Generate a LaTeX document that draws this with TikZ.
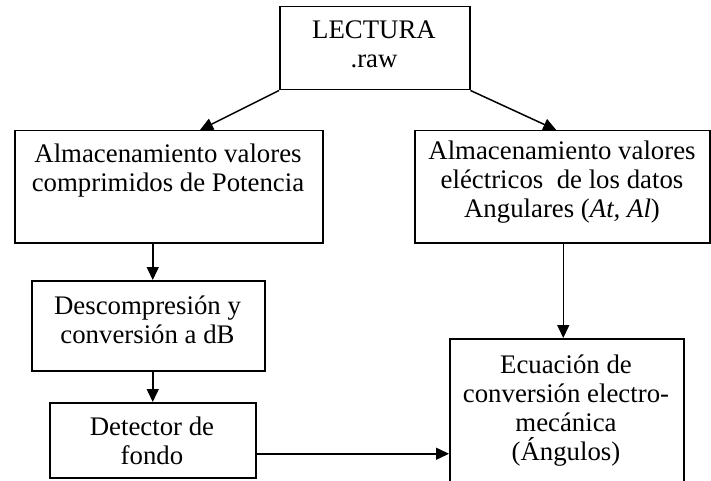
\documentclass[tikz,border=0pt]{standalone}
\usepackage{fontspec}
\setmainfont{Liberation Serif}
\usetikzlibrary{arrows.meta}
\begin{document}
\begin{tikzpicture}[x=1pt,y=-1pt,
  boxst/.style={draw=black,line width=1.5pt,inner sep=0pt,anchor=north west,fill=white},
  txt/.style={inner sep=0pt,anchor=north,align=center,font={\fontsize{26.8}{29}\selectfont}},
  arr/.style={draw=black,line width=1.5pt,-{Triangle[length=13pt,width=12pt]}}]
\clip (0,0) rectangle (711,481);
\fill[white] (0,0) rectangle (711,481);
% boxes
\node[boxst,minimum width=190pt,minimum height=83pt] (lec) at (279,6) {};
\node[boxst,minimum width=308pt,minimum height=112pt] (lb1) at (14,130) {};
\node[boxst,minimum width=295pt,minimum height=112pt] (rb1) at (414,130) {};
\node[boxst,minimum width=233pt,minimum height=90pt] (b2) at (31,280) {};
\node[boxst,minimum width=206pt,minimum height=75pt] (b3) at (49,402) {};
\node[boxst,minimum width=234pt,minimum height=190pt] (ecu) at (449,338) {};
% texts
\node[txt] (tlec) at (374,21) {LECTURA\\.raw};
\node[txt] (tlb1) at (168,144) {Almacenamiento valores\\comprimidos de Potencia};
\node[txt] (trb1) at (562,141) {Almacenamiento valores\\eléctricos\ \ de los datos\\Angulares (\textit{At, Al})};
\node[txt] (tb2) at (147.5,296) {Descompresión y\\conversión a dB};
\node[txt] (tb3) at (152,417) {Detector de\\fondo};
\node[txt] (tecu) at (566,355) {Ecuación de\\conversión electro-\\mecánica\\(Ángulos)};
% connectors
\draw[arr] (lec.south west) -- ([xshift=186pt]lb1.north west);
\draw[arr] (lec.south east) -- ([xshift=-6pt]rb1.north);
\draw[arr] (lb1.south -| b3.north) -- (b2.north -| b3.north);
\draw[arr] (b2.south -| b3.north) -- (b3.north);
\draw[arr] ([xshift=1pt]rb1.south) -- ([xshift=1pt]rb1.south |- ecu.north);
\draw[arr] ([yshift=-13.5pt]b3.east) -- ([yshift=-13.5pt]b3.east -| ecu.west);
\end{tikzpicture}
\end{document}
